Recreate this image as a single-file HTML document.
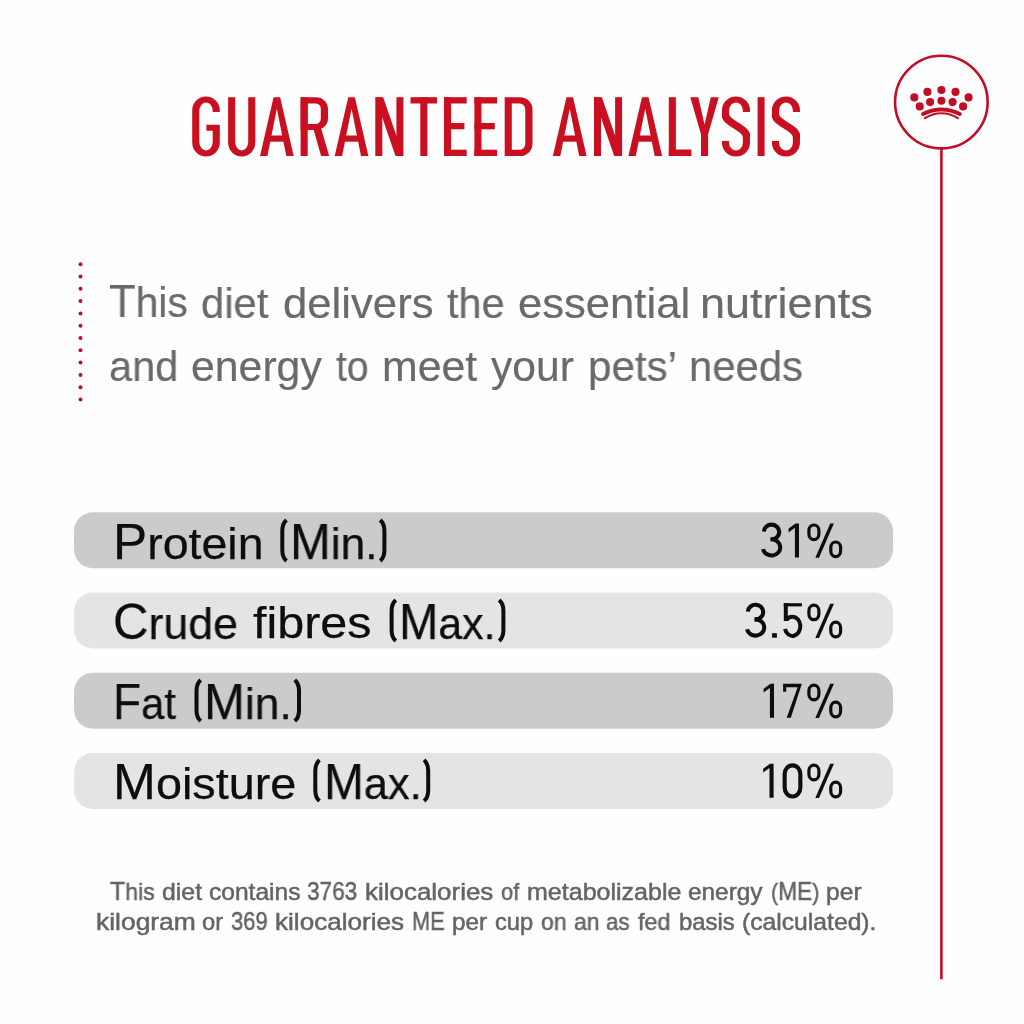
<!DOCTYPE html>
<html>
<head>
<meta charset="utf-8">
<title>Guaranteed Analysis</title>
<style>
html,body{margin:0;padding:0;}
body{width:1024px;height:1024px;background:#fefefe;position:relative;overflow:hidden;font-family:"Liberation Sans",sans-serif;}
.abs{position:absolute;white-space:nowrap;transform-origin:0 0;line-height:1;will-change:transform;}
.lead{font-size:42.5px;color:#6a6a6a;-webkit-text-stroke:0.2px #6a6a6a;}
.lab{font-size:45px;color:#0d0d0d;-webkit-text-stroke:0.25px #0d0d0d;}
.foot{font-size:23.7px;color:#646464;-webkit-text-stroke:0.5px #646464;}
.lead .cp{font-size:45.4px;}
.lab .cp{font-size:49.5px;}
.foot .cp{font-size:25.4px;}
</style>
</head>
<body>

<svg class="abs" style="left:0;top:0" width="1024" height="1024" viewBox="0 0 1024 1024">
  <!--TITLE-START-->
<g id="ttl" fill="#ca1020" stroke="#ca1020">
<g transform="translate(192.2,97.2)"><path stroke="none" d="M27.6,14.8 V13.2 A13.8,14 0 0 0 13.8,-0.8 A13.8,14 0 0 0 0,13.2 V45.4 A13.8,14 0 0 0 13.8,59.4 A13.8,14 0 0 0 27.6,45.4 V27.6 H14.2 V33.6 H20.5 V44.8 A6.7,8.5 0 0 1 13.8,53.3 A6.7,8.5 0 0 1 7.1,44.8 V13.8 A6.7,8.5 0 0 1 13.8,5.3 A6.7,8.5 0 0 1 20.5,13.8 V14.8 Z"/></g>
<g transform="translate(228.1,97.2)"><path stroke="none" d="M0,0 V45.4 A13.6,14 0 0 0 13.6,59.4 A13.6,14 0 0 0 27.2,45.4 V0 H20.1 V44.8 A6.5,8.5 0 0 1 13.6,53.3 A6.5,8.5 0 0 1 7.1,44.8 V0 Z"/></g>
<g transform="translate(260.0,97.2)"><path stroke="none" fill-rule="evenodd" d="M0,58.8 L13.55,0 H20.15 L33.7,58.8 H26.30 L16.85,11.5 L7.4,58.8 Z"/><rect x="7" y="38.3" width="19.70" height="6.2" stroke="none"/></g>
<g transform="translate(300.6,97.2)"><path stroke="none" fill-rule="evenodd" d="M0,0 H15.6 A11.8,11.8 0 0 1 27.4,11.8 V21 A11.8,11.8 0 0 1 15.6,32.8 H0 Z M7.1,6.2 H15.5 A4.7,5.6 0 0 1 20.2,11.8 V21.2 A4.7,5.6 0 0 1 15.5,26.8 H7.1 Z"/><rect x="0" y="0" width="7.1" height="58.8" stroke="none"/><polygon stroke="none" points="12.3,30 20.2,30 28.6,58.8 20.5,58.8"/></g>
<g transform="translate(334.7,97.2)"><path stroke="none" fill-rule="evenodd" d="M0,58.8 L13.55,0 H20.15 L33.7,58.8 H26.30 L16.85,11.5 L7.4,58.8 Z"/><rect x="7" y="38.3" width="19.70" height="6.2" stroke="none"/></g>
<g transform="translate(375.3,97.2)"><rect x="0" y="0" width="7.0" height="58.8" stroke="none"/><rect x="21.1" y="0" width="7.0" height="58.8" stroke="none"/><polygon stroke="none" points="0,0 7.9,0 28.1,58.8 20.200000000000003,58.8"/></g>
<g transform="translate(410.5,97.2)"><rect x="0" y="0" width="26.5" height="6.3" stroke="none"/><rect x="9.8" y="0" width="7.1" height="58.8" stroke="none"/></g>
<g transform="translate(444.0,97.2)"><rect x="0" y="0" width="7.1" height="58.8" stroke="none"/><rect x="0" y="0" width="22.7" height="6.3" stroke="none"/><rect x="0" y="25.8" width="20.4" height="6.3" stroke="none"/><rect x="0" y="52.5" width="22.7" height="6.3" stroke="none"/></g>
<g transform="translate(474.4,97.2)"><rect x="0" y="0" width="7.1" height="58.8" stroke="none"/><rect x="0" y="0" width="22.7" height="6.3" stroke="none"/><rect x="0" y="25.8" width="20.4" height="6.3" stroke="none"/><rect x="0" y="52.5" width="22.7" height="6.3" stroke="none"/></g>
<g transform="translate(504.7,97.2)"><path stroke="none" fill-rule="evenodd" d="M0,0 H15.5 A12.3,12.3 0 0 1 27.8,12.3 V46.5 A12.3,12.3 0 0 1 15.5,58.8 H0 Z M7.1,6.3 H15.2 A5.4,6.2 0 0 1 20.6,12.5 V46.3 A5.4,6.2 0 0 1 15.2,52.5 H7.1 Z"/></g>
<g transform="translate(552.9,97.2)"><path stroke="none" fill-rule="evenodd" d="M0,58.8 L13.55,0 H20.15 L33.7,58.8 H26.30 L16.85,11.5 L7.4,58.8 Z"/><rect x="7" y="38.3" width="19.70" height="6.2" stroke="none"/></g>
<g transform="translate(594.0,97.2)"><rect x="0" y="0" width="7.0" height="58.8" stroke="none"/><rect x="21.1" y="0" width="7.0" height="58.8" stroke="none"/><polygon stroke="none" points="0,0 7.9,0 28.1,58.8 20.200000000000003,58.8"/></g>
<g transform="translate(628.4,97.2)"><path stroke="none" fill-rule="evenodd" d="M0,58.8 L13.55,0 H20.15 L33.7,58.8 H26.30 L16.85,11.5 L7.4,58.8 Z"/><rect x="7" y="38.3" width="19.70" height="6.2" stroke="none"/></g>
<g transform="translate(668.8,97.2)"><rect x="0" y="0" width="7.1" height="58.8" stroke="none"/><rect x="0" y="52.3" width="22.6" height="6.5" stroke="none"/></g>
<g transform="translate(690.3,97.2)"><polygon stroke="none" points="0,0 8,0 14.25,27.5 20.5,0 28.5,0 17.80,37 17.80,58.8 10.70,58.8 10.70,37"/></g>
<g transform="translate(721.9,97.2)"><g transform="scale(1,0.82)"><path fill="none" stroke-width="7.1" d="M24.5,17.93 V16.06 A10.45,13.29 0 0 0 3.6,16.06 V21.95 C3.6,31.10 24.5,37.80 24.5,47.07 V55.40 A10.45,13.29 0 0 1 3.6,55.40 V53.29"/><path fill="none" stroke-width="7.1" d="M3.6,20.73 V21.95 C3.6,31.10 24.5,37.80 24.5,47.07 V48.29" transform="translate(0,0.9)"/><path fill="none" stroke-width="7.1" d="M3.6,20.73 V21.95 C3.6,31.10 24.5,37.80 24.5,47.07 V48.29" transform="translate(0,-0.9)"/></g></g>
<g transform="translate(757.5,97.2)"><rect x="0.1" y="0" width="7.0" height="58.8" stroke="none"/></g>
<g transform="translate(771.9,97.2)"><g transform="scale(1,0.82)"><path fill="none" stroke-width="7.1" d="M24.5,17.93 V16.06 A10.45,13.29 0 0 0 3.6,16.06 V21.95 C3.6,31.10 24.5,37.80 24.5,47.07 V55.40 A10.45,13.29 0 0 1 3.6,55.40 V53.29"/><path fill="none" stroke-width="7.1" d="M3.6,20.73 V21.95 C3.6,31.10 24.5,37.80 24.5,47.07 V48.29" transform="translate(0,0.9)"/><path fill="none" stroke-width="7.1" d="M3.6,20.73 V21.95 C3.6,31.10 24.5,37.80 24.5,47.07 V48.29" transform="translate(0,-0.9)"/></g></g>
</g>
  <!--TITLE-END-->
  <g fill="#c20d25">
    <circle cx="80.5" cy="264.2" r="2"/><circle cx="80.5" cy="276.5" r="2"/><circle cx="80.5" cy="288.8" r="2"/>
    <circle cx="80.5" cy="301.1" r="2"/><circle cx="80.5" cy="313.4" r="2"/><circle cx="80.5" cy="325.7" r="2"/>
    <circle cx="80.5" cy="338.0" r="2"/><circle cx="80.5" cy="350.3" r="2"/><circle cx="80.5" cy="362.6" r="2"/>
    <circle cx="80.5" cy="374.9" r="2"/><circle cx="80.5" cy="387.2" r="2"/><circle cx="80.5" cy="399.5" r="2"/>
  </g>
  <line x1="941.4" y1="148.4" x2="941.4" y2="979.2" stroke="#c20d25" stroke-width="2.6"/>
  <circle cx="941.35" cy="102.1" r="46.3" fill="none" stroke="#c20d25" stroke-width="2.6"/>
  <g id="crown" fill="#c20d25">
    <circle cx="914.3" cy="97.4" r="4.05"/><circle cx="927.4" cy="91.9" r="4.05"/><circle cx="941.4" cy="90.0" r="4.05"/><circle cx="955.5" cy="91.9" r="4.05"/><circle cx="968.6" cy="97.4" r="4.05"/>
    <circle cx="919.75" cy="106.4" r="4.05"/><circle cx="930.1" cy="102.1" r="4.05"/><circle cx="941.4" cy="100.7" r="4.05"/><circle cx="952.6" cy="102.1" r="4.05"/><circle cx="963.1" cy="106.4" r="4.05"/>
    <path d="M923.0,114.0 A39.9,39.9 0 0 1 959.8,114.0" fill="none" stroke="#c20d25" stroke-width="3.8" stroke-linecap="round"/>
    <path d="M924.9,118.2 A29.7,29.7 0 0 1 957.9,118.2" fill="none" stroke="#c20d25" stroke-width="2.1" stroke-linecap="round"/>
  </g>
  <g id="bars">
    <rect x="74" y="512.2" width="819" height="56" rx="19" fill="#cbcbcb"/>
    <rect x="74" y="592.5" width="819" height="56" rx="19" fill="#e4e4e4"/>
    <rect x="74" y="672.8" width="819" height="56" rx="19" fill="#cbcbcb"/>
    <rect x="74" y="753.0" width="819" height="56" rx="19" fill="#e4e4e4"/>
  </g>
  <g id="parens" fill="none" stroke="#0d0d0d" stroke-width="4">
    <path d="M286.50,519.90 Q282.30,523.60 282.30,530.60 V550.20 Q282.30,557.20 286.50,560.90"/><path d="M380.20,519.90 Q384.40,523.60 384.40,530.60 V550.20 Q384.40,557.20 380.20,560.90"/>
    <path d="M395.80,600.00 Q391.60,603.70 391.60,610.70 V630.30 Q391.60,637.30 395.80,641.00"/><path d="M499.20,600.00 Q503.40,603.70 503.40,610.70 V630.30 Q503.40,637.30 499.20,641.00"/>
    <path d="M200.70,680.10 Q196.50,683.80 196.50,690.80 V710.40 Q196.50,717.40 200.70,721.10"/><path d="M294.80,680.10 Q299.00,683.80 299.00,690.80 V710.40 Q299.00,717.40 294.80,721.10"/>
    <path d="M319.50,760.10 Q315.30,763.80 315.30,770.80 V790.40 Q315.30,797.40 319.50,801.10"/><path d="M424.00,760.10 Q428.20,763.80 428.20,770.80 V790.40 Q428.20,797.40 424.00,801.10"/>
  </g>
  <!--VALS-START-->
<g id="vals">
<g transform="translate(760.80,522.60)" fill="none" stroke="#0d0d0d" stroke-width="4.1"><path d="M3.07,8.9 A7.7,7.3 0 1 1 10.75,16.65 H9.6"/><path d="M10.75,16.65 A8.7,8.15 0 1 1 2.24,26.5"/></g>
<polygon transform="translate(799.00,557.60)" fill="#0d0d0d" points="0,-34.1 0,0 -4.1,0 -4.1,-29.8 -10.4,-25.2 -10.4,-29.0 -3.5,-34.1"/>
<g transform="translate(744.80,602.70)" fill="none" stroke="#0d0d0d" stroke-width="4.1"><path d="M3.07,8.9 A7.7,7.3 0 1 1 10.75,16.65 H9.6"/><path d="M10.75,16.65 A8.7,8.15 0 1 1 2.24,26.5"/></g>
<rect x="772.10" y="633.20" width="4.8" height="4.5" fill="#0d0d0d"/>
<g transform="translate(782.70,637.70)" fill="none" stroke="#0d0d0d" stroke-width="4.0" stroke-linejoin="miter"><path d="M3.1,-34.5 V-16.7"/><rect x="1.05" y="-34.5" width="18.15" height="3.2" fill="#0d0d0d" stroke="none"/><path d="M3.6,-17.6 C5.0,-19.9 7.3,-21.0 9.9,-21.0 A7.85,9.6 0 1 1 2.25,-8.7"/></g>
<polygon transform="translate(774.00,717.80)" fill="#0d0d0d" points="0,-34.1 0,0 -4.1,0 -4.1,-29.8 -10.4,-25.2 -10.4,-29.0 -3.5,-34.1"/>
<polygon transform="translate(783.10,717.80)" fill="#0d0d0d" points="0,-34.1 18.8,-34.1 7.7,0 3.6,0 14.5,-30.6 3.1,-30.6 3.1,-26.1 0,-26.1"/>
<polygon transform="translate(773.60,797.80)" fill="#0d0d0d" points="0,-34.1 0,0 -4.1,0 -4.1,-29.8 -10.4,-25.2 -10.4,-29.0 -3.5,-34.1"/>
<rect x="784.65" y="765.35" width="15.7" height="31.1" rx="7.85" ry="8.6" fill="none" stroke="#0d0d0d" stroke-width="4.1"/>
<g transform="translate(807.30,557.60)"><rect x="1.6" y="-32.6" width="10.0" height="14.6" rx="5" ry="5.6" fill="none" stroke="#0d0d0d" stroke-width="3.2"/><rect x="23.5" y="-15.6" width="9.8" height="14.7" rx="4.9" ry="5.6" fill="none" stroke="#0d0d0d" stroke-width="3.2"/><polygon fill="#0d0d0d" points="22.9,-34.0 26.6,-34.0 11.7,0.2 8.0,0.2"/></g>
<g transform="translate(807.30,637.70)"><rect x="1.6" y="-32.6" width="10.0" height="14.6" rx="5" ry="5.6" fill="none" stroke="#0d0d0d" stroke-width="3.2"/><rect x="23.5" y="-15.6" width="9.8" height="14.7" rx="4.9" ry="5.6" fill="none" stroke="#0d0d0d" stroke-width="3.2"/><polygon fill="#0d0d0d" points="22.9,-34.0 26.6,-34.0 11.7,0.2 8.0,0.2"/></g>
<g transform="translate(807.30,717.80)"><rect x="1.6" y="-32.6" width="10.0" height="14.6" rx="5" ry="5.6" fill="none" stroke="#0d0d0d" stroke-width="3.2"/><rect x="23.5" y="-15.6" width="9.8" height="14.7" rx="4.9" ry="5.6" fill="none" stroke="#0d0d0d" stroke-width="3.2"/><polygon fill="#0d0d0d" points="22.9,-34.0 26.6,-34.0 11.7,0.2 8.0,0.2"/></g>
<g transform="translate(807.30,797.80)"><rect x="1.6" y="-32.6" width="10.0" height="14.6" rx="5" ry="5.6" fill="none" stroke="#0d0d0d" stroke-width="3.2"/><rect x="23.5" y="-15.6" width="9.8" height="14.7" rx="4.9" ry="5.6" fill="none" stroke="#0d0d0d" stroke-width="3.2"/><polygon fill="#0d0d0d" points="22.9,-34.0 26.6,-34.0 11.7,0.2 8.0,0.2"/></g>
</g>
  <!--VALS-END-->
</svg>





<div id="a1" class="abs lead" style="left:109.28px;top:279.00px;transform:scaleX(0.9613);"><span class="cp">T</span>his</div>
<div id="a2" class="abs lead" style="left:201.03px;top:283.00px;transform:scaleX(0.9828);">diet</div>
<div id="a3" class="abs lead" style="left:282.86px;top:283.00px;transform:scaleX(1.0279);">delivers</div>
<div id="a4" class="abs lead" style="left:447.01px;top:283.00px;transform:scaleX(0.9744);">the</div>
<div id="a5" class="abs lead" style="left:517.60px;top:283.00px;transform:scaleX(1.0260);">essential</div>
<div id="a6" class="abs lead" style="left:700.19px;top:283.00px;transform:scaleX(1.0595);">nutrients</div>
<div id="b1" class="abs lead" style="left:109.19px;top:346.00px;transform:scaleX(0.9774);">and</div>
<div id="b2" class="abs lead" style="left:191.04px;top:346.00px;transform:scaleX(1.0066);">energy</div>
<div id="b3" class="abs lead" style="left:336.14px;top:346.00px;transform:scaleX(0.9203);">to</div>
<div id="b4" class="abs lead" style="left:381.63px;top:346.00px;transform:scaleX(1.0077);">meet</div>
<div id="b5" class="abs lead" style="left:491.25px;top:346.00px;transform:scaleX(1.0018);">your</div>
<div id="b6" class="abs lead" style="left:587.82px;top:346.00px;transform:scaleX(0.9923);">pets’</div>
<div id="b7" class="abs lead" style="left:689.49px;top:346.00px;transform:scaleX(0.9843);">needs</div>
<div id="c1" class="abs lab" style="left:113.02px;top:516.60px;transform:scaleX(1.0341);"><span class="cp">P</span>rotein</div>
<div id="c2" class="abs lab" style="left:289.50px;top:516.60px;transform:scaleX(0.9864);"><span class="cp">M</span>in.</div>
<div id="d1" class="abs lab" style="left:113.36px;top:596.70px;transform:scaleX(0.9938);"><span class="cp">C</span>rude</div>
<div id="d2" class="abs lab" style="left:253.21px;top:599.70px;transform:scaleX(1.0767);">fibres</div>
<div id="d3" class="abs lab" style="left:399.43px;top:596.70px;transform:scaleX(0.9529);"><span class="cp">M</span>ax.</div>
<div id="e1" class="abs lab" style="left:113.31px;top:676.80px;transform:scaleX(0.9297);"><span class="cp">F</span>at</div>
<div id="e2" class="abs lab" style="left:203.69px;top:676.80px;transform:scaleX(0.9889);"><span class="cp">M</span>in.</div>
<div id="g1" class="abs lab" style="left:112.90px;top:756.80px;transform:scaleX(1.0401);"><span class="cp">M</span>oisture</div>
<div id="g2" class="abs lab" style="left:323.68px;top:756.80px;transform:scaleX(0.9647);"><span class="cp">M</span>ax.</div>
<div id="h1" class="abs foot" style="left:110.06px;top:879.20px;transform:scaleX(0.9756);"><span class="cp">T</span>his</div>
<div id="h2" class="abs foot" style="left:161.61px;top:881.20px;transform:scaleX(1.0480);">diet</div>
<div id="h3" class="abs foot" style="left:208.52px;top:881.20px;transform:scaleX(1.0368);">contains</div>
<div id="h4" class="abs foot" style="left:307.13px;top:879.20px;transform:scaleX(0.8909);"><span class="cp">3763</span></div>
<div id="h5" class="abs foot" style="left:364.83px;top:881.20px;transform:scaleX(1.0950);">kilocalories</div>
<div id="h6" class="abs foot" style="left:501.31px;top:881.20px;transform:scaleX(0.9247);">of</div>
<div id="h7" class="abs foot" style="left:526.58px;top:881.20px;transform:scaleX(1.0565);">metabolizable</div>
<div id="h8" class="abs foot" style="left:687.93px;top:881.20px;transform:scaleX(1.0292);">energy</div>
<div id="h9" class="abs foot" style="left:770.58px;top:879.20px;transform:scaleX(0.8971);">(<span class="cp">ME</span>)</div>
<div id="h10" class="abs foot" style="left:826.30px;top:881.20px;transform:scaleX(1.0394);">per</div>
<div id="k1" class="abs foot" style="left:95.71px;top:910.80px;transform:scaleX(1.1149);">kilogram</div>
<div id="k2" class="abs foot" style="left:202.25px;top:910.80px;transform:scaleX(1.0025);">or</div>
<div id="k3" class="abs foot" style="left:231.05px;top:908.80px;transform:scaleX(0.8663);"><span class="cp">369</span></div>
<div id="k4" class="abs foot" style="left:275.22px;top:910.80px;transform:scaleX(1.1011);">kilocalories</div>
<div id="k5" class="abs foot" style="left:411.70px;top:908.80px;transform:scaleX(0.8563);"><span class="cp">ME</span></div>
<div id="k6" class="abs foot" style="left:451.72px;top:910.80px;transform:scaleX(1.0242);">per</div>
<div id="k7" class="abs foot" style="left:495.45px;top:910.80px;transform:scaleX(0.9959);">cup</div>
<div id="k8" class="abs foot" style="left:541.17px;top:910.80px;transform:scaleX(0.9732);">on</div>
<div id="k9" class="abs foot" style="left:573.68px;top:910.80px;transform:scaleX(0.9649);">an</div>
<div id="k10" class="abs foot" style="left:606.00px;top:910.80px;transform:scaleX(0.9389);">as</div>
<div id="k11" class="abs foot" style="left:638.40px;top:910.80px;transform:scaleX(0.9827);">fed</div>
<div id="k12" class="abs foot" style="left:678.74px;top:910.80px;transform:scaleX(1.0093);">basis</div>
<div id="k13" class="abs foot" style="left:742.00px;top:910.80px;transform:scaleX(1.0421);">(calculated).</div>
</body>
</html>
